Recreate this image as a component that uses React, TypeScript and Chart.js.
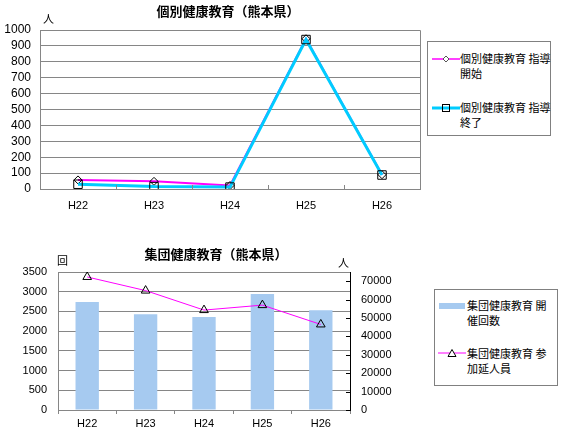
import { useEffect, useRef } from "react"
import { Chart, registerables } from "chart.js"

Chart.register(...registerables)

// データ
const categories = ["H22", "H23", "H24", "H25", "H26"]
const shidoKaishi = [57, 48, 22, 945, 90]
const shidoShuryo = [30, 15, 12, 940, 88]
const kaisaiKaisu = [2740, 2430, 2360, 2940, 2530]
const sankaNinzu = [72300, 64900, 54300, 57000, 46500]
const rightTicks = [0, 10000, 20000, 30000, 40000, 50000, 60000, 70000]

const GRID = "#868686"
const NUM_FONT = "'Liberation Sans', Arial, sans-serif"
const JP_FONT = "'Noto Sans CJK JP', 'Noto Sans', sans-serif"

const plain = (v: any) => String(v)

const abs = (left: number, top: number, extra: any = {}) => ({
  position: "absolute" as const,
  left,
  top,
  ...extra,
})

function LineMark({ color, width, shape }: { color: string; width: number; shape: string }) {
  return (
    <svg width={28} height={12} style={{ display: "block" }}>
      <line x1={0} y1={6} x2={28} y2={6} stroke={color} strokeWidth={width} />
      {shape === "diamond" && <polygon points="14,3 17,6 14,9 11,6" fill="#fff" stroke="#555" strokeWidth={1} />}
      {shape === "square" && <rect x={10.5} y={2.5} width={7} height={7} fill="none" stroke="#000" strokeWidth={1} />}
      {shape === "triangle" && <polygon points="14,2.5 18,9.5 10,9.5" fill="#fff" stroke="#000" strokeWidth={1} />}
    </svg>
  )
}

function KobetsuChart() {
  const chartRef = useRef<HTMLCanvasElement>(null)
  const chartInstance = useRef<Chart | null>(null)

  useEffect(() => {
    if (!chartRef.current) return
    if (chartInstance.current) chartInstance.current.destroy()

    // 枠線と内向きの目盛り
    const frame = {
      id: "frame1",
      afterDraw(chart: any) {
        const { ctx, chartArea: a } = chart
        const xs = chart.scales.x
        ctx.save()
        ctx.strokeStyle = GRID
        ctx.lineWidth = 1
        ctx.beginPath()
        ctx.moveTo(a.left, a.top + 0.5)
        ctx.lineTo(a.right + 0.5, a.top + 0.5)
        ctx.lineTo(a.right + 0.5, a.bottom)
        for (let i = 1; i < categories.length; i++) {
          const x = Math.round(xs.getPixelForValue(i - 0.5)) + 0.5
          ctx.moveTo(x, a.bottom)
          ctx.lineTo(x, a.bottom - 4)
        }
        ctx.stroke()
        ctx.restore()
      },
    }

    const ctx = chartRef.current.getContext("2d")
    if (ctx) {
      chartInstance.current = new Chart(ctx, {
        type: "line",
        data: {
          labels: categories,
          datasets: [
            {
              label: "個別健康教育 指導開始",
              data: shidoKaishi,
              borderColor: "#ff00ff",
              borderWidth: 2,
              pointStyle: "rectRot",
              pointRadius: 4,
              pointBorderColor: "#000",
              pointBackgroundColor: "transparent",
              pointBorderWidth: 1,
              order: 1,
            },
            {
              label: "個別健康教育 指導終了",
              data: shidoShuryo,
              borderColor: "#00ccff",
              borderWidth: 3,
              pointStyle: "rect",
              pointRadius: 6,
              pointBorderColor: "#000",
              pointBackgroundColor: "transparent",
              pointBorderWidth: 1,
              order: 0,
            },
          ],
        },
        options: {
          animation: false,
          responsive: true,
          maintainAspectRatio: false,
          layout: { autoPadding: false, padding: { top: 30, right: 1, left: 0, bottom: 0 } },
          plugins: {
            legend: { display: false },
            title: { display: false },
            tooltip: { enabled: false },
          },
          scales: {
            x: {
              offset: true,
              grid: { display: false },
              border: { color: GRID },
              ticks: { color: "#000", font: { family: NUM_FONT, size: 11 }, padding: 2 },
              afterFit: (s: any) => {
                s.height = 26
              },
            },
            y: {
              min: 0,
              max: 1000,
              ticks: {
                stepSize: 100,
                autoSkip: false,
                callback: plain,
                color: "#000",
                font: { family: NUM_FONT, size: 12 },
                padding: 9,
              },
              grid: { color: GRID, drawTicks: false },
              border: { color: GRID },
              afterFit: (s: any) => {
                s.width = 40
              },
            },
          },
        },
        plugins: [frame],
      })
    }

    return () => {
      if (chartInstance.current) chartInstance.current.destroy()
    }
  }, [])

  return (
    <div style={abs(0, 0, { width: 421, height: 215 })}>
      <canvas ref={chartRef} />
    </div>
  )
}

function ShudanChart() {
  const chartRef = useRef<HTMLCanvasElement>(null)
  const chartInstance = useRef<Chart | null>(null)

  useEffect(() => {
    if (!chartRef.current) return
    if (chartInstance.current) chartInstance.current.destroy()

    // 右軸の内向き目盛り
    const rightMarks = {
      id: "rightMarks",
      afterDraw(chart: any) {
        const { ctx, chartArea: a } = chart
        const ys = chart.scales.y1
        ctx.save()
        ctx.strokeStyle = "#000"
        ctx.lineWidth = 1
        ctx.beginPath()
        rightTicks.forEach((v) => {
          const y = Math.round(ys.getPixelForValue(v)) + 0.5
          ctx.moveTo(a.right - 4, y)
          ctx.lineTo(a.right, y)
        })
        ctx.stroke()
        ctx.restore()
      },
    }

    const ctx = chartRef.current.getContext("2d")
    if (ctx) {
      chartInstance.current = new Chart(ctx, {
        type: "bar",
        data: {
          labels: categories,
          datasets: [
            {
              type: "line",
              label: "集団健康教育 参加延人員",
              data: sankaNinzu,
              yAxisID: "y1",
              borderColor: "#ff00ff",
              borderWidth: 1,
              pointStyle: "triangle",
              pointRadius: 5,
              pointBorderColor: "#000",
              pointBackgroundColor: "transparent",
              pointBorderWidth: 1,
              order: 0,
            } as any,
            {
              type: "bar",
              label: "集団健康教育 開催回数",
              data: kaisaiKaisu,
              yAxisID: "y",
              backgroundColor: "#a6caf0",
              barPercentage: 0.4,
              categoryPercentage: 1,
              order: 1,
            },
          ],
        },
        options: {
          animation: false,
          responsive: true,
          maintainAspectRatio: false,
          layout: { autoPadding: false, padding: { top: 52, right: 0, left: 0, bottom: 0 } },
          plugins: {
            legend: { display: false },
            title: { display: false },
            tooltip: { enabled: false },
          },
          scales: {
            x: {
              offset: true,
              grid: { offset: true, drawOnChartArea: false, tickLength: 4, color: GRID },
              border: { color: GRID },
              ticks: { color: "#000", font: { family: NUM_FONT, size: 11 }, padding: 3 },
              afterFit: (s: any) => {
                s.height = 23
              },
            },
            y: {
              position: "left",
              min: 0,
              max: 3500,
              ticks: {
                stepSize: 500,
                autoSkip: false,
                callback: plain,
                color: "#000",
                font: { family: NUM_FONT, size: 11 },
                padding: 11,
              },
              grid: { color: GRID, drawTicks: false },
              border: { color: GRID },
              afterFit: (s: any) => {
                s.width = 58
              },
            },
            y1: {
              position: "right",
              min: 0,
              max: 75000,
              afterBuildTicks: (s: any) => {
                s.ticks = rightTicks.map((v) => ({ value: v }))
              },
              ticks: {
                autoSkip: false,
                callback: plain,
                color: "#000",
                font: { family: NUM_FONT, size: 11 },
                padding: 11,
              },
              grid: { drawOnChartArea: false, drawTicks: false },
              border: { color: "#000" },
              afterFit: (s: any) => {
                s.width = 50
              },
            },
          },
        },
        plugins: [rightMarks],
      })
    }

    return () => {
      if (chartInstance.current) chartInstance.current.destroy()
    }
  }, [])

  return (
    <div style={abs(0, 220, { width: 400, height: 213 })}>
      <canvas ref={chartRef} />
    </div>
  )
}

const titleStyle = { fontFamily: JP_FONT, fontWeight: 700, fontSize: 13, color: "#000", whiteSpace: "nowrap" as const }
const legendText = { fontFamily: JP_FONT, fontSize: 11, lineHeight: "15px", color: "#000", whiteSpace: "nowrap" as const }
const unitStyle = { fontFamily: JP_FONT, fontSize: 11, color: "#000", lineHeight: "12px" }

export default function App() {
  return (
    <div style={abs(0, 0, { width: 563, height: 433, background: "#fff", overflow: "hidden" })}>
      <KobetsuChart />
      <ShudanChart />

      <div style={abs(0, 2, { width: 456, textAlign: "center", lineHeight: "18px", ...titleStyle })}>
        個別健康教育（熊本県）
      </div>
      <div style={abs(43, 12, unitStyle)}>人</div>

      <div style={abs(0, 245, { width: 432, textAlign: "center", lineHeight: "18px", ...titleStyle })}>
        集団健康教育（熊本県）
      </div>
      <div style={abs(57, 254, unitStyle)}>回</div>
      <div style={abs(338, 256, unitStyle)}>人</div>

      {/* 凡例（上） */}
      <div style={abs(427, 41, { width: 124, height: 95, border: "1px solid #808080", boxSizing: "border-box" })}>
        <div style={abs(4, 11)}>
          <LineMark color="#ff00ff" width={1.5} shape="diamond" />
        </div>
        <div style={abs(32, 9, legendText)}>
          個別健康教育 指導
          <br />
          開始
        </div>
        <div style={abs(4, 60)}>
          <LineMark color="#00ccff" width={3} shape="square" />
        </div>
        <div style={abs(32, 58, legendText)}>
          個別健康教育 指導
          <br />
          終了
        </div>
      </div>

      {/* 凡例（下） */}
      <div style={abs(434, 289, { width: 124, height: 97, border: "1px solid #808080", boxSizing: "border-box" })}>
        <div style={abs(4, 13, { width: 26, height: 6, background: "#a6caf0" })} />
        <div style={abs(32, 8, legendText)}>
          集団健康教育 開
          <br />
          催回数
        </div>
        <div style={abs(3, 57)}>
          <LineMark color="#ff00ff" width={1} shape="triangle" />
        </div>
        <div style={abs(32, 56, legendText)}>
          集団健康教育 参
          <br />
          加延人員
        </div>
      </div>
    </div>
  )
}
